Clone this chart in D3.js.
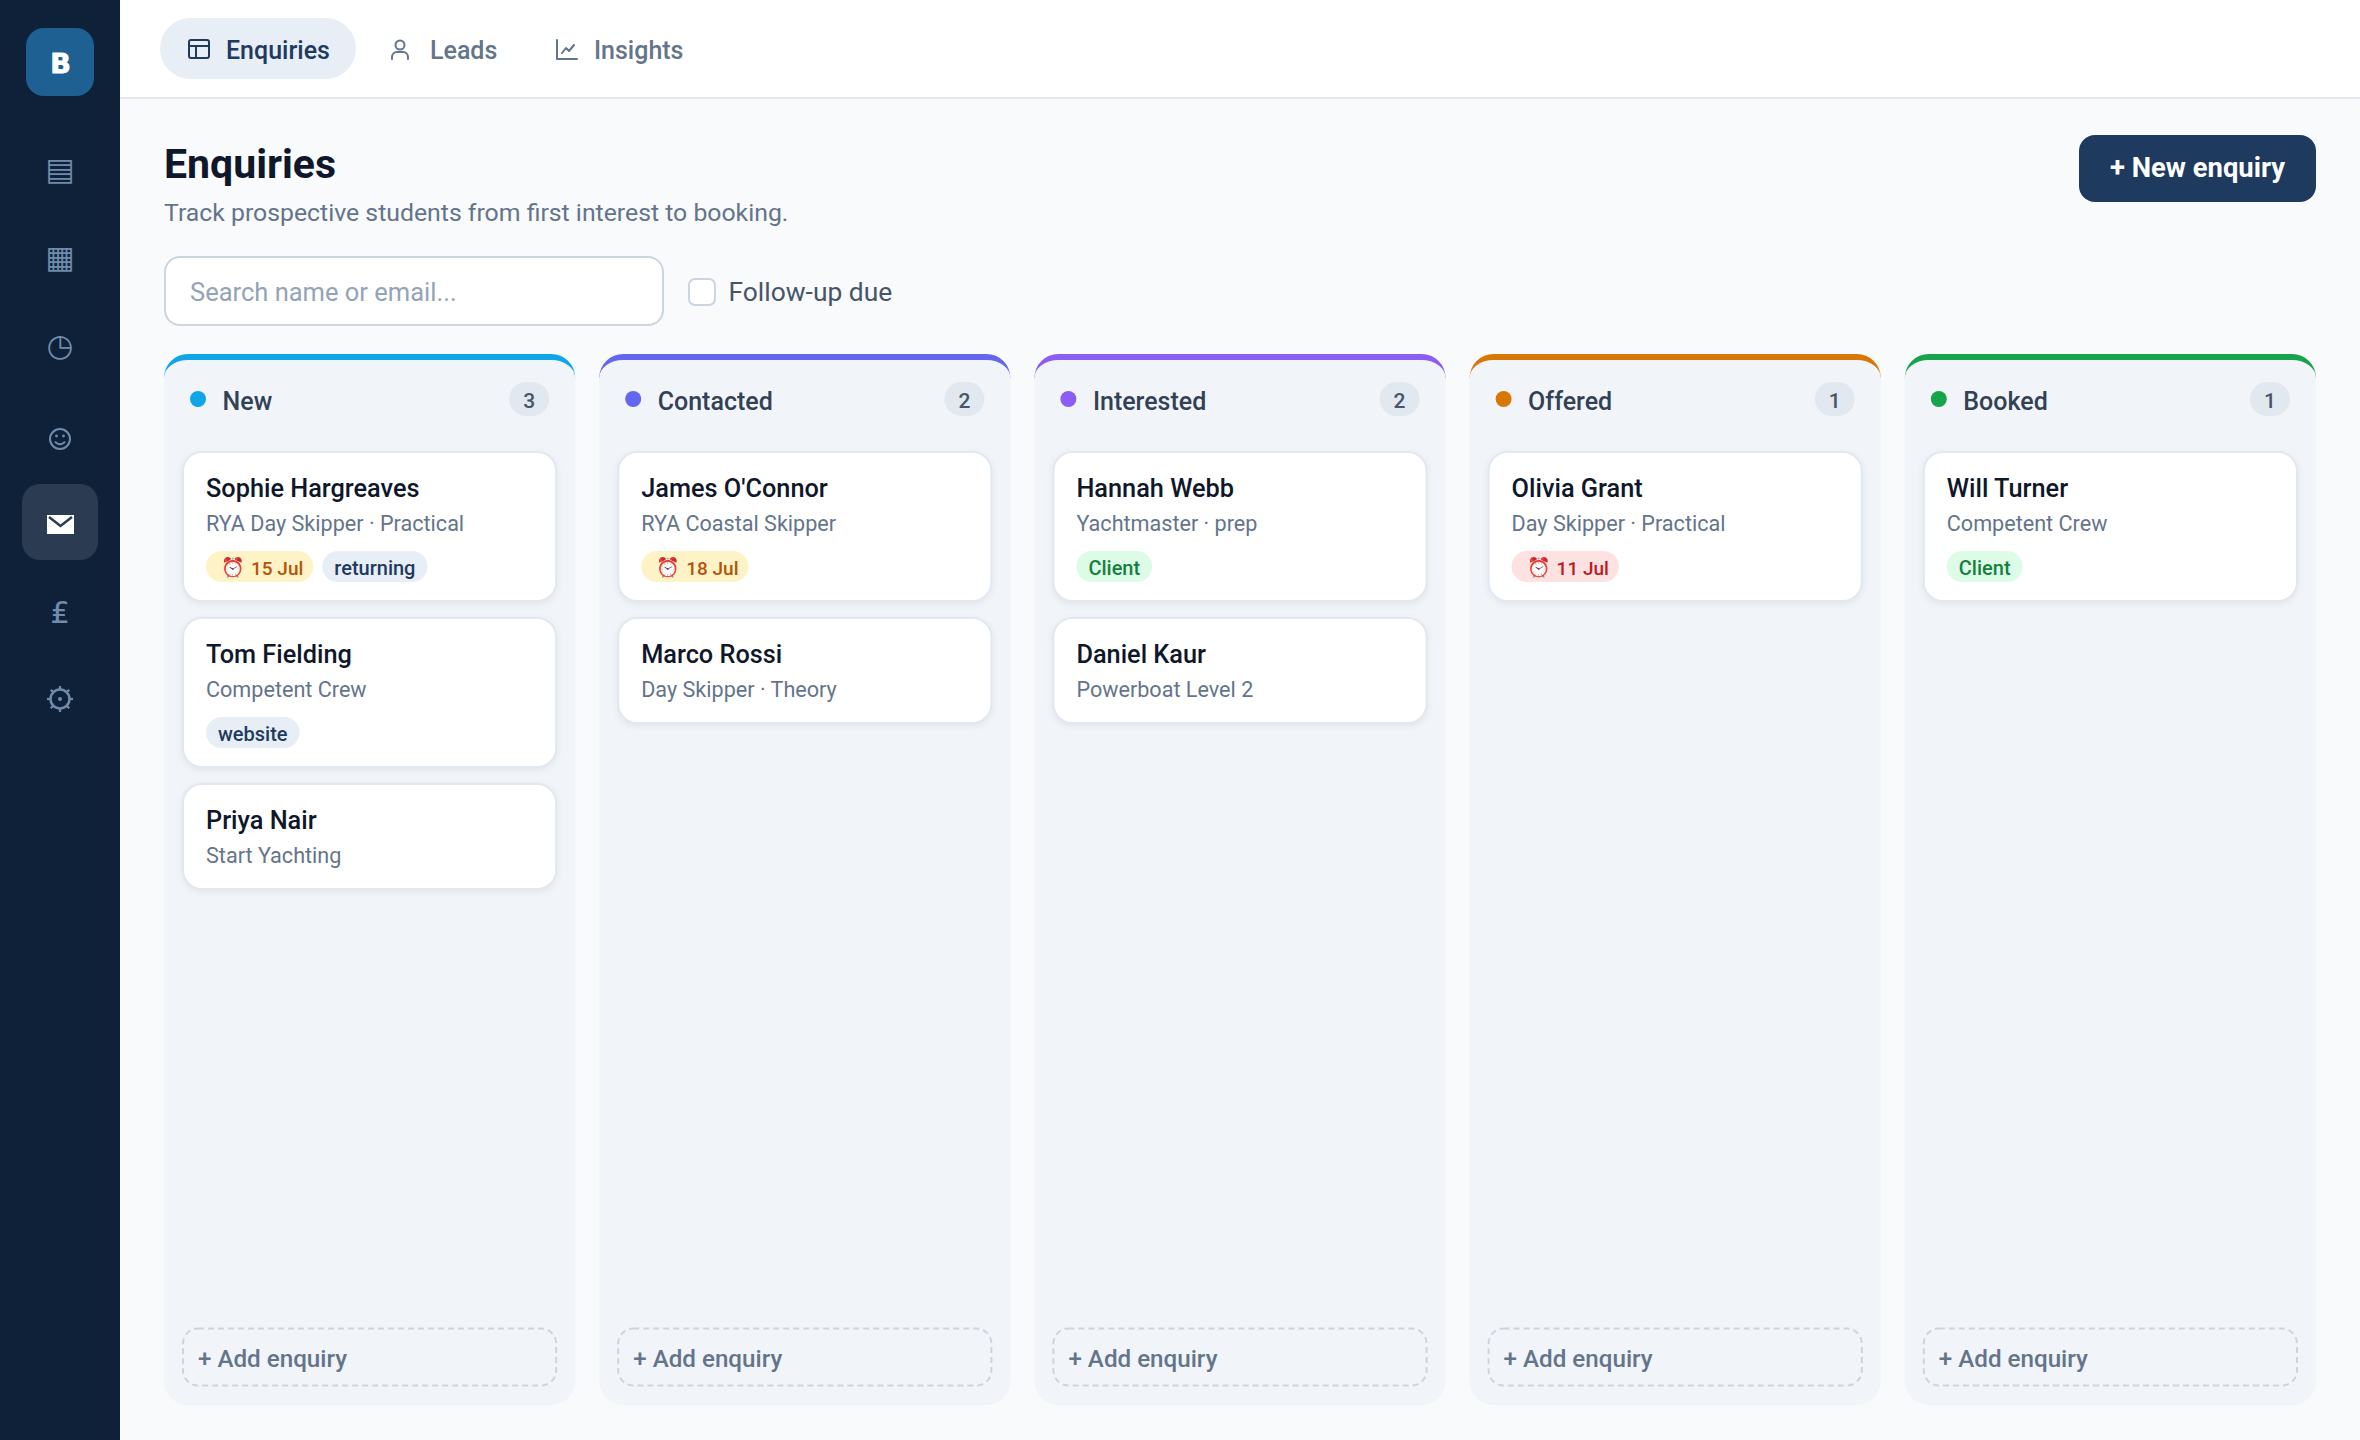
<!DOCTYPE html>
<html>
<head>
<meta charset="utf-8">
<title>Enquiries</title>
<script src="https://cdn.jsdelivr.net/npm/d3@7"></script>
<style>
  html, body { margin: 0; padding: 0; background: #f8fafc; }
  svg { display: block; }
  text { font-family: "Roboto", sans-serif; }
</style>
</head>
<body>
<div id="board"></div>
<script>
// Board contents
var navGlyphs = ["\u25A4", "\u25A6", "\u25F7", "", "", "\u20A4", ""];
var tabLabels = ["Enquiries", "Leads", "Insights"];
var stageNames = ["New", "Contacted", "Interested", "Offered", "Booked"];
var stageCounts = [3, 2, 2, 1, 1];
var stageColours = ["#0ea5e9", "#6366f1", "#8b5cf6", "#d97706", "#16a34a"];
var cardStage = [0, 0, 0, 1, 1, 2, 2, 3, 4];
var cardSlot = [0, 1, 2, 0, 1, 0, 1, 0, 0];
var cardNames = ["Sophie Hargreaves", "Tom Fielding", "Priya Nair", "James O'Connor", "Marco Rossi",
  "Hannah Webb", "Daniel Kaur", "Olivia Grant", "Will Turner"];
var cardCourses = ["RYA Day Skipper \u00B7 Practical", "Competent Crew", "Start Yachting", "RYA Coastal Skipper",
  "Day Skipper \u00B7 Theory", "Yachtmaster \u00B7 prep", "Powerboat Level 2", "Day Skipper \u00B7 Practical", "Competent Crew"];
var cardTags = [
  [["amber", "15 Jul"], ["plain", "returning"]],
  [["plain", "website"]],
  [],
  [["amber", "18 Jul"]],
  [],
  [["green", "Client"]],
  [],
  [["red", "11 Jul"]],
  [["green", "Client"]]
];
var tagFills = { amber: "#fef3c7", plain: "#e8eef6", green: "#dcfce7", red: "#fee2e2" };
var tagInks = { amber: "#b45309", plain: "#1e3a5f", green: "#15803d", red: "#b91c1c" };

var width = 2360, height = 1440;
var svg = d3.select("#board").append("svg")
  .attr("width", width)
  .attr("height", height)
  .attr("viewBox", "0 0 " + width + " " + height);

svg.append("rect").attr("width", width).attr("height", height).attr("fill", "#f8fafc");

// Sidebar
svg.append("rect").attr("width", 120).attr("height", height).attr("fill", "#0f2139");
svg.append("rect").attr("x", 26).attr("y", 28).attr("width", 68).attr("height", 68).attr("rx", 18)
  .attr("fill", "#1d6091");
svg.append("text").attr("x", 60.5).attr("y", 73).attr("text-anchor", "middle")
  .style("font-family", "'DejaVu Sans', sans-serif")
  .style("font-weight", 700).style("font-size", "27px").attr("fill", "#fff")
  .attr("stroke", "#fff").attr("stroke-width", 0.8).text("B");

var navY = d3.scaleOrdinal().domain(d3.range(navGlyphs.length)).range([169, 257, 345, 439, 524, 612, 700]);
svg.append("rect").attr("x", 22).attr("y", 484).attr("width", 76).attr("height", 76).attr("rx", 18)
  .attr("fill", "#2b3b52");
svg.selectAll("text.nav").data(navGlyphs).enter().append("text")
  .attr("class", "nav")
  .attr("x", 60)
  .attr("y", function (d, i) { return navY(i); })
  .attr("dy", "0.36em")
  .attr("text-anchor", "middle")
  .style("font-family", "'DejaVu Sans', sans-serif")
  .style("font-size", "31px")
  .attr("fill", "#6f8cab")
  .text(function (d) { return d; });

// smiley, envelope and gear are drawn, the glyph versions look too different
var smile = svg.append("g").attr("transform", "translate(60,439)").attr("stroke", "#6f8cab").attr("fill", "none").attr("stroke-width", 2);
smile.append("circle").attr("r", 10);
smile.append("path").attr("d", "M-5 2.5A6 6 0 0 0 5 2.5");
smile.append("circle").attr("cx", -3.5).attr("cy", -3).attr("r", 1.4).attr("fill", "#6f8cab").attr("stroke", "none");
smile.append("circle").attr("cx", 3.5).attr("cy", -3).attr("r", 1.4).attr("fill", "#6f8cab").attr("stroke", "none");
svg.append("rect").attr("x", 47).attr("y", 515).attr("width", 27).attr("height", 19).attr("fill", "#fff");
svg.append("path").attr("d", "M49 517L60.5 526L72 517").attr("fill", "none").attr("stroke", "#2b3b52").attr("stroke-width", 2.5);
var gear = svg.append("g").attr("transform", "translate(60,699)").attr("stroke", "#6f8cab").attr("fill", "none");
gear.append("circle").attr("r", 9.5).attr("stroke-width", 2.5);
gear.append("circle").attr("r", 2).attr("fill", "#6f8cab").attr("stroke", "none");
gear.selectAll("line").data(d3.range(8)).enter().append("line")
  .attr("y1", -9.5).attr("y2", -13).attr("stroke-width", 2.2)
  .attr("transform", function (d) { return "rotate(" + d * 45 + ")"; });

// Top bar with tabs
svg.append("rect").attr("x", 120).attr("width", width - 120).attr("height", 97).attr("fill", "#fff");
svg.append("rect").attr("x", 120).attr("y", 97).attr("width", width - 120).attr("height", 2).attr("fill", "#e2e8f0");
svg.append("rect").attr("x", 160).attr("y", 18).attr("width", 196).attr("height", 61).attr("rx", 30.5)
  .attr("fill", "#e8eef6");

var tabX = d3.scaleOrdinal().domain(tabLabels).range([226, 430, 594]);
svg.selectAll("text.tab").data(tabLabels).enter().append("text")
  .attr("class", "tab")
  .attr("x", function (d) { return tabX(d); })
  .attr("y", 59)
  .style("font-size", "25px")
  .style("font-weight", 500)
  .attr("fill", function (d, i) { return i === 0 ? "#1e3a5f" : "#64748b"; })
  .text(function (d) { return d; });

// Tab icons
var tabIcon = svg.append("g").attr("fill", "none").attr("stroke-width", 2).attr("stroke-linecap", "round")
  .attr("stroke-linejoin", "round");
var iconA = tabIcon.append("g").attr("stroke", "#1e3a5f").attr("transform", "translate(188,39)");
iconA.append("rect").attr("x", 1).attr("y", 1).attr("width", 20).attr("height", 18).attr("rx", 2);
iconA.append("path").attr("d", "M1 7H21M8 7V19");
var iconB = tabIcon.append("g").attr("stroke", "#64748b").attr("transform", "translate(391,39)");
iconB.append("circle").attr("cx", 9).attr("cy", 6).attr("r", 4.5);
iconB.append("path").attr("d", "M1 20V18A5 5 0 0 1 6 13H12A5 5 0 0 1 17 18V20");
var iconC = tabIcon.append("g").attr("stroke", "#64748b").attr("transform", "translate(556,39)");
iconC.append("path").attr("d", "M1 1V20H21M6 14L10 9L13 12L18 6");

// Page heading
svg.append("text").attr("x", 164).attr("y", 178)
  .style("font-size", "41px").style("font-weight", 700).attr("fill", "#0f172a").text("Enquiries");
svg.append("text").attr("x", 164).attr("y", 221)
  .style("font-size", "24.8px").attr("fill", "#64748b")
  .text("Track prospective students from first interest to booking.");

svg.append("rect").attr("x", 2079).attr("y", 135).attr("width", 237).attr("height", 67).attr("rx", 16)
  .attr("fill", "#1e3a5f");
svg.append("text").attr("x", 2197.5).attr("y", 177).attr("text-anchor", "middle")
  .style("font-size", "27.4px").style("font-weight", 700).attr("fill", "#fff").text("+ New enquiry");

// Search row
svg.append("rect").attr("x", 165).attr("y", 257).attr("width", 498).attr("height", 68).attr("rx", 15)
  .attr("fill", "#fff").attr("stroke", "#cbd5e1").attr("stroke-width", 2);
svg.append("text").attr("x", 190).attr("y", 301)
  .style("font-size", "25.5px").attr("fill", "#94a3b8").text("Search name or email...");
svg.append("rect").attr("x", 689).attr("y", 279).attr("width", 26).attr("height", 26).attr("rx", 6)
  .attr("fill", "#fff").attr("stroke", "#cbd5e1").attr("stroke-width", 2);
svg.append("text").attr("x", 728.5).attr("y", 301)
  .style("font-size", "26.4px").attr("fill", "#475569").text("Follow-up due");

// Columns
var columnX = d3.scaleBand().domain(d3.range(stageNames.length)).range([164, 2316]).paddingInner(24 / 435.2);
var colW = columnX.bandwidth(), colTop = 354, colBottom = 1405, colR = 24;
var columns = svg.selectAll("g.column").data(stageNames).enter().append("g")
  .attr("class", "column")
  .attr("transform", function (d, i) { return "translate(" + columnX(i) + ",0)"; });

// accent strip: CSS style top border, tapering down the corners
columns.append("path")
  .attr("fill", function (d, i) { return stageColours[i]; })
  .attr("d", "M0 " + (colTop + colR) + "A" + colR + " " + colR + " 0 0 1 " + colR + " " + colTop +
    "H" + (colW - colR) + "A" + colR + " " + colR + " 0 0 1 " + colW + " " + (colTop + colR) + "Z");
columns.append("path")
  .attr("fill", "#f1f5f9")
  .attr("d", "M0 " + (colTop + colR) + "A" + colR + " " + (colR - 6) + " 0 0 1 " + colR + " " + (colTop + 6) +
    "H" + (colW - colR) + "A" + colR + " " + (colR - 6) + " 0 0 1 " + colW + " " + (colTop + colR) +
    "V" + (colBottom - colR) + "A" + colR + " " + colR + " 0 0 1 " + (colW - colR) + " " + colBottom +
    "H" + colR + "A" + colR + " " + colR + " 0 0 1 0 " + (colBottom - colR) + "Z");
columns.append("circle").attr("cx", 34).attr("cy", 399).attr("r", 8)
  .attr("fill", function (d, i) { return stageColours[i]; });
columns.append("text").attr("x", 58.5).attr("y", 410)
  .style("font-size", "25px").style("font-weight", 500).attr("fill", "#334155")
  .text(function (d) { return d; });
columns.append("rect").attr("x", colW - 66).attr("y", 382).attr("width", 40).attr("height", 34).attr("rx", 17)
  .attr("fill", "#e2e8f0");
columns.append("text").attr("x", colW - 46).attr("y", 408).attr("text-anchor", "middle")
  .style("font-size", "21px").style("font-weight", 500).attr("fill", "#475569")
  .text(function (d, i) { return stageCounts[i]; });

// Add enquiry buttons
columns.append("rect").attr("x", 19).attr("y", 1328.5).attr("width", colW - 38).attr("height", 57).attr("rx", 15)
  .attr("fill", "none").attr("stroke", "#cbd5e1").attr("stroke-width", 2).attr("stroke-dasharray", "6 4");
columns.append("text").attr("x", 34).attr("y", 1367)
  .style("font-size", "24.2px").style("font-weight", 500).attr("fill", "#64748b").text("+ Add enquiry");

// Cards
var cardY = d3.scaleLinear().domain([0, 1]).range([451, 617]);
var cards = svg.selectAll("g.card").data(cardNames).enter().append("g")
  .attr("class", "card")
  .attr("transform", function (d, i) { return "translate(" + (columnX(cardStage[i]) + 18) + "," + cardY(cardSlot[i]) + ")"; });
var cardW = colW - 36;
cards.append("rect").attr("x", 1).attr("y", 1).attr("width", cardW - 2)
  .attr("height", function (d, i) { return cardTags[i].length ? 149 : 105; })
  .attr("rx", 19)
  .attr("fill", "#fff").attr("stroke", "#e2e8f0").attr("stroke-width", 2)
  .style("filter", "drop-shadow(0 2px 3px rgba(15,33,57,0.07))");
cards.append("text").attr("x", 24).attr("y", 46)
  .style("font-size", "25.3px").style("font-weight", 500).attr("fill", "#0f172a")
  .text(function (d) { return d; });
cards.append("text").attr("x", 24).attr("y", 80)
  .style("font-size", "21.6px").attr("fill", "#64748b")
  .text(function (d, i) { return cardCourses[i]; });

// Tag pills sized from their text; date tags carry an alarm clock in front
cards.each(function (d, i) {
  var g = d3.select(this), x = 24;
  cardTags[i].forEach(function (tag) {
    var dated = /Jul/.test(tag[1]);
    var pill = g.append("rect").attr("y", 100).attr("height", 31).attr("rx", 15.5)
      .attr("fill", tagFills[tag[0]]);
    var label = g.append("text").attr("y", 124)
      .style("font-size", dated ? "19px" : "20px").style("font-weight", 500)
      .attr("fill", tagInks[tag[0]]).text(tag[1]);
    var lead = dated ? 45 : 12;
    var w = label.node().getComputedTextLength() + lead + (dated ? 10 : 12);
    pill.attr("x", x).attr("width", w);
    label.attr("x", x + lead);
    if (dated) {
      g.append("text").attr("x", x + 15).attr("y", 123).style("font-size", "19px").text("\u23F0");
    }
    x += w + 9;
  });
});
</script>
</body>
</html>
